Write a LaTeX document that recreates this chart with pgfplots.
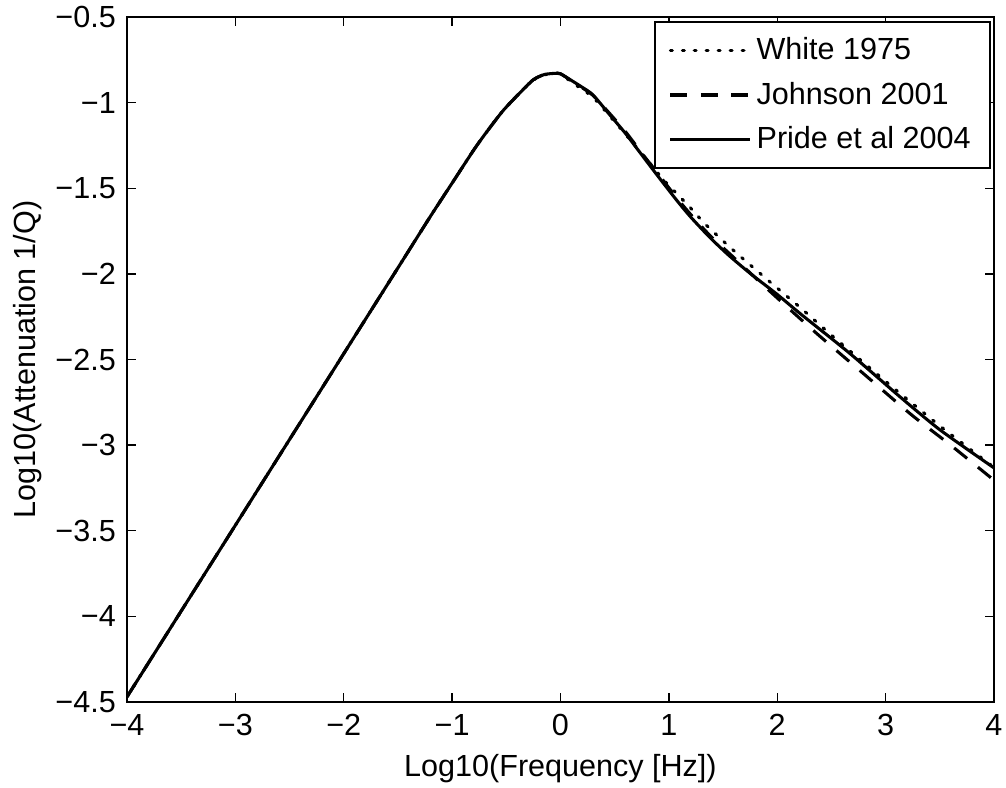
\documentclass[border=0pt]{standalone}
\usepackage{pgfplots}
\pgfplotsset{compat=1.18}
\usepackage{fontspec}
\setmainfont{Liberation Sans}
\begin{document}
\begin{tikzpicture}[font=\fontsize{11}{13}\selectfont]
\begin{axis}[
  scale only axis,
  width=312.12pt, height=246.6pt,
  xmin=-4, xmax=4, ymin=-4.5, ymax=-0.5,
  xtick={-4,-3,-2,-1,0,1,2,3,4},
  xticklabels={−4,−3,−2,−1,0,1,2,3,4},
  ytick={-4.5,-4,-3.5,-3,-2.5,-2,-1.5,-1,-0.5},
  yticklabels={−4.5,−4,−3.5,−3,−2.5,−2,−1.5,−1,−0.5},
  tick align=inside,
  major tick length=3.2pt,
  tick style={black, line width=0.5pt},
  axis line style={line width=0.7pt},
  xlabel={Log10(Frequency [Hz])},
  ylabel={Log10(Attenuation 1/Q)},
  xticklabel style={yshift=-1pt},
  yticklabel style={xshift=-0.5pt},
  xlabel style={yshift=0.5pt},
  ylabel style={yshift=-2pt},
  legend style={at={(0.9965,0.994)}, anchor=north east, draw=black, line width=0.6pt,
    font=\fontsize{11}{13}\selectfont, row sep=2.6pt, inner xsep=5pt, inner ysep=3.5pt,
    cells={anchor=west}},
  legend image code/.code={\draw[#1, line width=1.1pt] (0pt,0pt) -- (28.5pt,0pt);},
  every axis plot/.append style={line width=1.1pt, black, no markers},
]
\addplot[black, no markers, smooth, tension=0.4, dash pattern=on 0.7pt off 3.6pt, line cap=round] coordinates {
(-4,-4.47) (-3,-3.468) (-2,-2.466) (-1.5,-1.965) (-1.2,-1.664) (-1.0,-1.47)
(-0.8,-1.276) (-0.68,-1.17) (-0.53,-1.047) (-0.375,-0.943) (-0.25,-0.868)
(-0.15,-0.838) (-0.05,-0.829) (0.0,-0.834) (0.1,-0.878) (0.2,-0.923) (0.3,-0.968)
(0.45,-1.075) (0.6,-1.185) (0.8,-1.335) (0.95,-1.45) (1.2,-1.615) (1.335,-1.709)
(1.6,-1.865) (1.924,-2.042) (2.2,-2.19) (2.508,-2.362) (2.8,-2.52) (3.107,-2.684)
(3.525,-2.9) (4.0,-3.13)
};
\addlegendentry{White 1975}
\addplot[black, no markers, smooth, tension=0.4, dash pattern=on 6pt off 5pt] coordinates {
(-4,-4.47) (-3,-3.468) (-2,-2.466) (-1.5,-1.965) (-1.2,-1.664) (-1.0,-1.47)
(-0.8,-1.276) (-0.68,-1.17) (-0.53,-1.047) (-0.375,-0.943) (-0.25,-0.866)
(-0.15,-0.836) (-0.05,-0.829) (0.0,-0.832) (0.1,-0.872) (0.2,-0.913) (0.3,-0.958)
(0.456,-1.065) (0.6,-1.17) (0.763,-1.305) (0.9,-1.415) (1.071,-1.555) (1.2,-1.652)
(1.378,-1.775) (1.6,-1.905) (1.9,-2.083) (2.348,-2.339) (2.793,-2.581)
(3.239,-2.823) (3.6,-3.0) (4.0,-3.205)
};
\addlegendentry{Johnson 2001}
\addplot[black, no markers, smooth, tension=0.4, solid] coordinates {
(-4,-4.47) (-3,-3.468) (-2,-2.466) (-1.5,-1.965) (-1.2,-1.664) (-1.0,-1.47)
(-0.8,-1.276) (-0.68,-1.17) (-0.53,-1.047) (-0.375,-0.943) (-0.25,-0.866)
(-0.15,-0.836) (-0.05,-0.829) (0.0,-0.831) (0.1,-0.87) (0.2,-0.91) (0.3,-0.955)
(0.456,-1.072) (0.6,-1.18) (0.763,-1.316) (0.9,-1.43) (1.071,-1.569) (1.2,-1.667)
(1.378,-1.787) (1.55,-1.89) (1.75,-1.997) (2.0,-2.12) (2.208,-2.23)
(2.669,-2.464) (3.131,-2.717) (3.5,-2.91) (4.0,-3.133)
};
\addlegendentry{Pride et al 2004}
\end{axis}
\pgfresetboundingbox
\path[use as bounding box] (-45.72pt,-30.96pt) rectangle (316.44pt,252.72pt);
\end{tikzpicture}
\end{document}
